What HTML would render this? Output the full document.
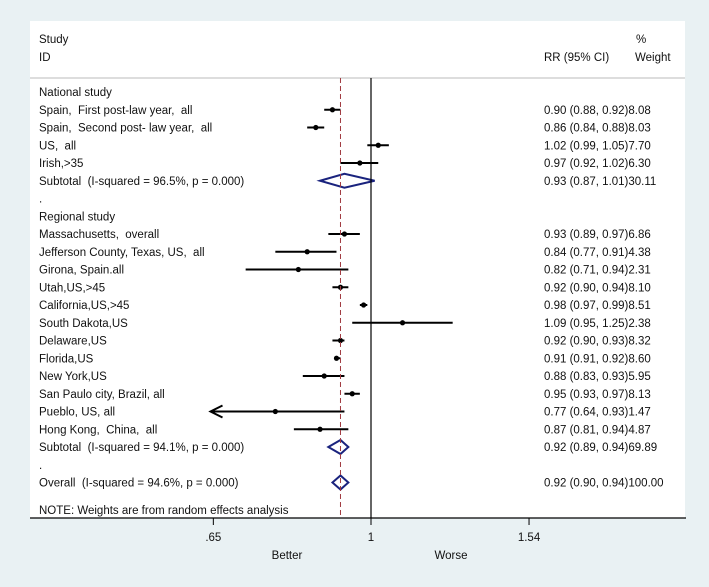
<!DOCTYPE html>
<html><head><meta charset="utf-8"><style>
html,body{margin:0;padding:0;background:#e9f1f3;}
svg{display:block;font-family:"Liberation Sans",Arial,sans-serif;}
svg text{white-space:pre;}
</style></head><body>
<svg id="plot" width="709" height="587" viewBox="0 0 709 587" xmlns="http://www.w3.org/2000/svg">
<rect x="0" y="0" width="709" height="587" fill="#e9f1f3"/>
<rect x="30" y="21" width="655" height="497" fill="#ffffff"/>
<g font-size="11.5" fill="#111">
<text x="39" y="43">Study</text>
<text x="39" y="61">ID</text>
<text x="544" y="61">RR (95% CI)</text>
<text x="636" y="43">%</text>
<text x="635" y="61">Weight</text>
</g>
<line x1="30" y1="78" x2="685" y2="78" stroke="#bbb" stroke-width="1"/>
<g id="rows"></g>
<g id="axis"></g>
</svg>
<script>
const labels = ["National study","Spain,  First post-law year,  all","Spain,  Second post- law year,  all","US,  all","Irish,>35","Subtotal  (I-squared = 96.5%, p = 0.000)",".","Regional study","Massachusetts,  overall","Jefferson County, Texas, US,  all","Girona, Spain.all","Utah,US,>45","California,US,>45","South Dakota,US","Delaware,US","Florida,US","New York,US","San Paulo city, Brazil, all","Pueblo, US, all","Hong Kong,  China,  all","Subtotal  (I-squared = 94.1%, p = 0.000)",".","Overall  (I-squared = 94.6%, p = 0.000)"];
const kinds = ["h","s","s","s","s","d","b","h","s","s","s","s","s","s","s","s","s","s","s","s","d","b","d"];
const est = [null,0.90,0.86,1.02,0.97,0.93,null,null,0.93,0.84,0.82,0.92,0.98,1.09,0.92,0.91,0.88,0.95,0.77,0.87,0.92,null,0.92];
const lower = [null,0.88,0.84,0.99,0.92,0.87,null,null,0.89,0.77,0.71,0.90,0.97,0.95,0.90,0.91,0.83,0.93,0.64,0.81,0.89,null,0.90];
const upper = [null,0.92,0.88,1.05,1.02,1.01,null,null,0.97,0.91,0.94,0.94,0.99,1.25,0.93,0.92,0.93,0.97,0.93,0.94,0.94,null,0.94];
const weights = [null,"8.08","8.03","7.70","6.30","30.11",null,null,"6.86","4.38","2.31","8.10","8.51","2.38","8.32","8.60","5.95","8.13","1.47","4.87","69.89",null,"100.00"];
const ticks = [0.65,1,1.54];
const tickLabels = [".65","1","1.54"];
const pooled = 0.92;
const xMinVal = 0.645;

const NS="http://www.w3.org/2000/svg";
const x = v => 371 + Math.log(v)*366;
const rowY = i => 92 + i*17.75;
const f2 = v => v.toFixed(2);
function mk(tag, attrs, parent){const e=document.createElementNS(NS,tag);for(const k in attrs)e.setAttribute(k,attrs[k]);parent.appendChild(e);return e;}
const rows=document.getElementById('rows');
const axis=document.getElementById('axis');

let nl=mk('line',{x1:x(1),y1:78,x2:x(1),y2:518,stroke:'#000','stroke-width':1.2},axis);


let pl=mk('line',{x1:x(pooled),y1:78,x2:x(pooled),y2:518,stroke:'#a03a40','stroke-width':1,'stroke-dasharray':'5,3'},axis);



labels.forEach((lab,i)=>{
  const y=rowY(i);
  const t=mk('text',{x:39,y:y+4,'font-size':11.5,fill:'#111'},rows);
  t.textContent=lab;
  
  
  if(est[i]==null) return;
  const r=mk('text',{x:544,y:y+4,'font-size':11.5,fill:'#111'},rows);
  r.textContent=f2(est[i])+" ("+f2(lower[i])+", "+f2(upper[i])+")"+weights[i];
  
  
  if(kinds[i]==='s'){
    const lo=Math.max(lower[i],xMinVal);
    const ci=mk('line',{x1:x(lo),y1:y,x2:x(upper[i]),y2:y,stroke:'#000','stroke-width':2},rows);
    
    
    if(lower[i]<xMinVal){
      const ah=mk('path',{d:`M${x(lo)+12},${y-6} L${x(lo)},${y} L${x(lo)+12},${y+6}`,fill:'none',stroke:'#000','stroke-width':2},rows);
      
      
    }
    const p=mk('circle',{cx:x(est[i]),cy:y,r:2.6,fill:'#000'},rows);
    
    
  } else if(kinds[i]==='d'){
    const xl=x(lower[i]),xr=x(upper[i]),xc=x(est[i]);
    const d=mk('polygon',{points:`${xl},${y} ${xc},${y-7} ${xr},${y} ${xc},${y+7}`,fill:'none',stroke:'#1a237e','stroke-width':2},rows);
    
    
  }
});

const note=mk('text',{x:39,y:514,'font-size':11.5,fill:'#111'},rows);
note.textContent="NOTE: Weights are from random effects analysis";



const al=mk('line',{x1:30,y1:518,x2:686,y2:518,stroke:'#000','stroke-width':1.2},axis);


ticks.forEach((v,i)=>{
  const tk=mk('line',{x1:x(v),y1:518,x2:x(v),y2:525,stroke:'#000','stroke-width':1},axis);
  
  
  const tl=mk('text',{x:x(v),y:541,'font-size':11.5,'text-anchor':'middle',fill:'#111'},axis);
  tl.textContent=tickLabels[i];
  
  
});
const b=mk('text',{x:287,y:559,'font-size':11.5,'text-anchor':'middle',fill:'#111'},axis);
b.textContent="Better";


const w=mk('text',{x:451,y:559,'font-size':11.5,'text-anchor':'middle',fill:'#111'},axis);
w.textContent="Worse";


</script>
</body></html>
